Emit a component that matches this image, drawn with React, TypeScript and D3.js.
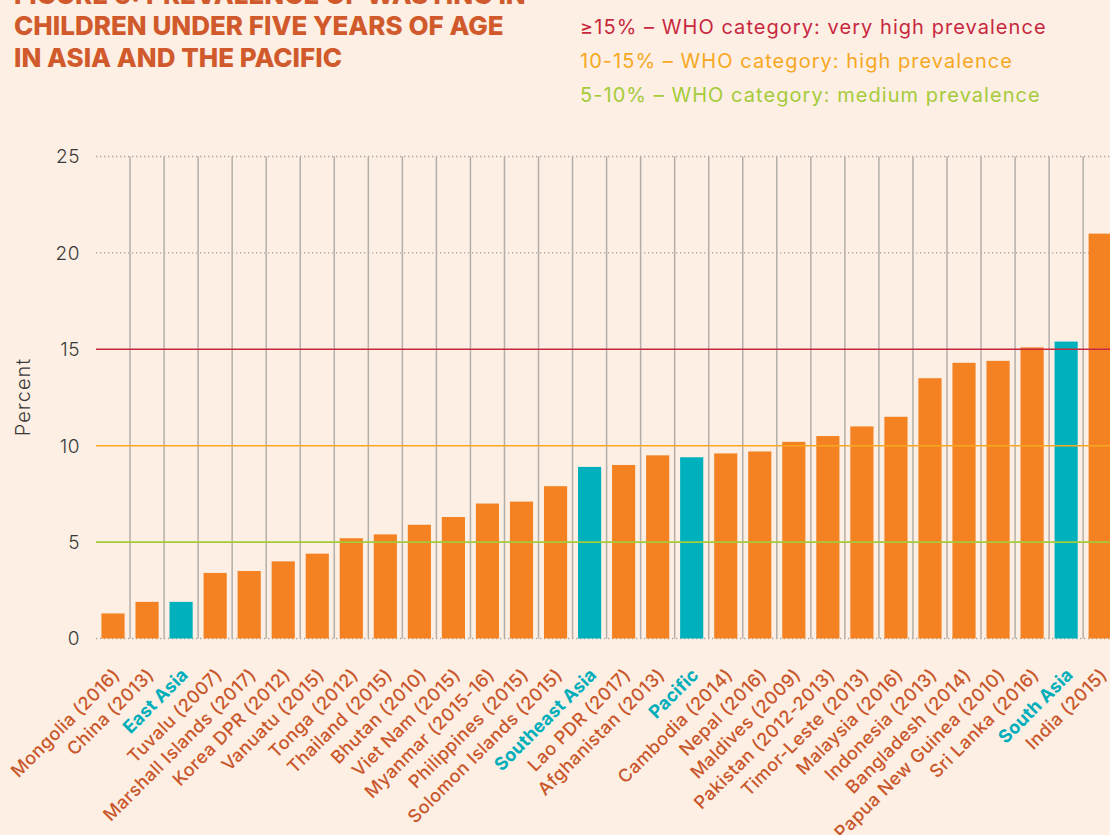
import React, { useEffect } from "react";
import * as d3 from "d3";

const categories = [
  "Mongolia (2016)", "China (2013)", "East Asia", "Tuvalu (2007)", "Marshall Islands (2017)",
  "Korea DPR (2012)", "Vanuatu (2015)", "Tonga (2012)", "Thailand (2015)", "Bhutan (2010)",
  "Viet Nam (2015)", "Myanmar (2015-16)", "Philippines (2015)", "Solomon Islands (2015)", "Southeast Asia",
  "Lao PDR (2017)", "Afghanistan (2013)", "Pacific", "Cambodia (2014)", "Nepal (2016)",
  "Maldives (2009)", "Pakistan (2012-2013)", "Timor-Leste (2013)", "Malaysia (2016)", "Indonesia (2013)",
  "Bangladesh (2014)", "Papua New Guinea (2010)", "Sri Lanka (2016)", "South Asia", "India (2015)",
];
const values = [
  1.3, 1.9, 1.9, 3.4, 3.5,
  4.0, 4.4, 5.2, 5.4, 5.9,
  6.3, 7.0, 7.1, 7.9, 8.9,
  9.0, 9.5, 9.4, 9.6, 9.7,
  10.2, 10.5, 11.0, 11.5, 13.5,
  14.3, 14.4, 15.1, 15.4, 21.0,
];
const aggregates = ["East Asia", "Southeast Asia", "Pacific", "South Asia"];
const yTicks = [0, 5, 10, 15, 20, 25];
const dottedTicks = [0, 20, 25];
const thresholds = [
  { value: 15, color: "#C8283F", label: "≥15% – WHO category: very high prevalence" },
  { value: 10, color: "#F7A823", label: "10-15% – WHO category: high prevalence" },
  { value: 5, color: "#A5CB3A", label: "5-10% – WHO category: medium prevalence" },
];
const titleLines = [
  "FIGURE 6: PREVALENCE OF WASTING IN",
  "CHILDREN UNDER FIVE YEARS OF AGE",
  "IN ASIA AND THE PACIFIC",
];

const W = 1110;
const H = 835;
const BG = "#FDEFE3";
const FONT = "Inter, 'Noto Sans', sans-serif";

export default function App() {
  useEffect(() => {
    document.body.style.margin = "0";
    document.body.style.background = BG;
  }, []);

  const x = d3
    .scaleBand<string>()
    .domain(categories)
    .range([96, 96 + 34.04 * categories.length])
    .paddingInner(0.32)
    .paddingOuter(0.16);
  const y = d3.scaleLinear().domain([0, 25]).range([638.5, 156.5]);
  const step = x.step();
  const plotLeft = 96;
  const plotRight = W;

  return (
    <svg width={W} height={H} style={{ display: "block", background: BG }} fontFamily={FONT}>
      <rect x={0} y={0} width={W} height={H} fill={BG} />
      {/* title */}
      {titleLines.map((t, i) => (
        <text key={t} x={14} y={3.5 + i * 31.7} fontSize={26} fontWeight={800} fill="#D15A2C" letterSpacing={0}>
          {t}
        </text>
      ))}
      {/* legend */}
      {thresholds.map((t, i) => (
        <text key={t.label} x={580} y={33.5 + i * 34.2} fontSize={20} letterSpacing={1.05} fill={t.color}>
          {t.label}
        </text>
      ))}
      {/* dotted grid */}
      {dottedTicks.map((v) => (
        <line key={v} x1={plotLeft} x2={plotRight} y1={y(v)} y2={y(v)} stroke="#A9A49F" strokeWidth={1.3} strokeDasharray="1.3,2.7" />
      ))}
      {/* vertical separators */}
      {categories.slice(0, -1).map((c) => {
        const sx = (x(c) as number) - x.paddingOuter() * step + step;
        return <line key={c} x1={sx} x2={sx} y1={y(25)} y2={y(0)} stroke="#B3AEA9" strokeWidth={1.5} />;
      })}
      {/* bars */}
      {categories.map((c, i) => (
        <rect
          key={c}
          x={x(c)}
          y={y(values[i])}
          width={x.bandwidth()}
          height={y(0) - y(values[i])}
          fill={aggregates.includes(c) ? "#00B0BD" : "#F48222"}
        />
      ))}
      {/* threshold lines */}
      {thresholds.map((t) => (
        <line key={t.value} x1={plotLeft} x2={plotRight} y1={y(t.value)} y2={y(t.value)} stroke={t.color} strokeWidth={1.6} />
      ))}
      {/* y ticks */}
      {yTicks.map((v) => (
        <text key={v} x={80} y={y(v)} dy="0.36em" textAnchor="end" fontSize={19} fill="#3A3A3A" fontWeight={300} letterSpacing={0.5}>
          {v}
        </text>
      ))}
      <text transform={`translate(30, 397) rotate(-90)`} textAnchor="middle" fontSize={20} fill="#3A3A3A" fontWeight={300} letterSpacing={1}>
        Percent
      </text>
      {/* x labels */}
      {categories.map((c) => {
        const cx = (x(c) as number) + x.bandwidth() / 2;
        const agg = aggregates.includes(c);
        return (
          <text
            key={c}
            transform={`translate(${cx + 8}, 676) rotate(-45)`}
            textAnchor="end"
            fontSize={18}
            letterSpacing={agg ? 0.2 : 0.4}
            fontWeight={agg ? 700 : 500}
            fill={agg ? "#00AEBB" : "#C9572C"}
          >
            {c}
          </text>
        );
      })}
    </svg>
  );
}
